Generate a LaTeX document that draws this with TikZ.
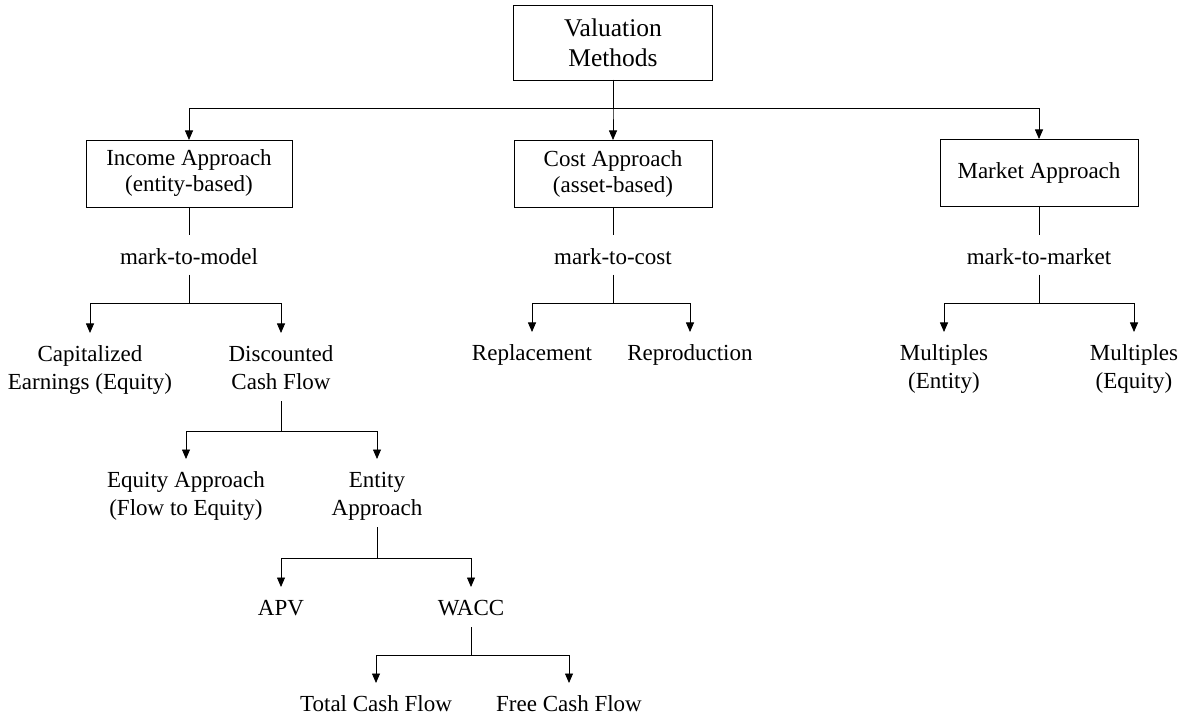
\documentclass[tikz,border=0pt]{standalone}
\usepackage{fontspec}
\setmainfont{Liberation Serif}
\usetikzlibrary{arrows.meta}
% two centred lines with fixed top and bottom clearance
\newcommand\twolines[2]{\rule{0pt}{28pt}#1\\#2\rule[-12pt]{0pt}{12pt}}
\begin{document}
\begin{tikzpicture}[x=1pt,y=-1pt,
  every node/.style={inner sep=0pt, outer sep=0pt},
  txt/.style={font=\fontsize{23}{28}\selectfont, align=center},
  box/.style={draw, line width=0.8pt, font=\fontsize{23}{26}\selectfont, align=center, minimum height=67pt},
  leaf/.style={txt, anchor=north},
  oneline/.style={leaf, text height=28pt, text depth=12pt},
  marklabel/.style={txt, anchor=north, text height=30pt, text depth=10pt},
  link/.style={line width=0.8pt},
  arrow/.style={link, -{Triangle[length=9.5pt,width=8pt]}}]
\useasboundingbox (0,0) rectangle (1186,719);

% root and the three approaches
\node[draw, line width=0.8pt, font=\fontsize{25.5}{30}\selectfont, align=center,
      minimum width=199pt, minimum height=75pt] (root) at (613,42.5) {Valuation\\Methods};
\node[box, minimum width=206pt] (income) at (189,173.5) {Income Approach\\(entity-based)};
\node[box, minimum width=198pt] (cost) at (613,173.5) {Cost Approach\\(asset-based)};
\node[box, minimum width=198pt] (market) at (1039,172.5) {Market Approach};
\foreach \c in {income,cost,market}
  \draw[arrow] (root.south) -- ++(0,28) -| (\c.north);

% income approach branch
\node[marklabel] (mmodel) at (189,235) {mark-to-model};
\draw[link] (income.south) -- (mmodel.north);
\node[leaf] (cap) at (90,333) {\twolines{Capitalized}{Earnings (Equity)}};
\node[leaf] (dcf) at (281,333) {\twolines{Discounted}{Cash Flow}};
\foreach \c in {cap,dcf}
  \draw[arrow] (mmodel.south) -- ++(0,28) -| (\c.north);

\node[leaf] (eqa) at (186,459) {\twolines{Equity Approach}{(Flow to Equity)}};
\node[leaf] (ent) at (377,459) {\twolines{Entity}{Approach}};
\foreach \c in {eqa,ent}
  \draw[arrow] (dcf.south) -- ++(0,30) -| (\c.north);

\node[oneline] (apv) at (281,587) {APV};
\node[oneline] (wacc) at (471,587) {WACC};
\foreach \c in {apv,wacc}
  \draw[arrow] (ent.south) -- ++(0,31) -| (\c.north);

\node[oneline] (tcf) at (376,683) {Total Cash Flow};
\node[oneline] (fcf) at (569,683) {Free Cash Flow};
\foreach \c in {tcf,fcf}
  \draw[arrow] (wacc.south) -- ++(0,28) -| (\c.north);

% cost approach branch
\node[marklabel] (mcost) at (613,235) {mark-to-cost};
\draw[link] (cost.south) -- (mcost.north);
\node[oneline] (repl) at (532,332) {Replacement};
\node[oneline] (repro) at (690,332) {Reproduction};
\foreach \c in {repl,repro}
  \draw[arrow] (mcost.south) -- ++(0,28) -| (\c.north);

% market approach branch
\node[marklabel] (mmarket) at (1039,235) {mark-to-market};
\draw[link] (market.south) -- (mmarket.north);
\node[leaf] (mult1) at (944,332) {\twolines{Multiples}{(Entity)}};
\node[leaf] (mult2) at (1134,332) {\twolines{Multiples}{(Equity)}};
\foreach \c in {mult1,mult2}
  \draw[arrow] (mmarket.south) -- ++(0,28) -| (\c.north);
\end{tikzpicture}
\end{document}
